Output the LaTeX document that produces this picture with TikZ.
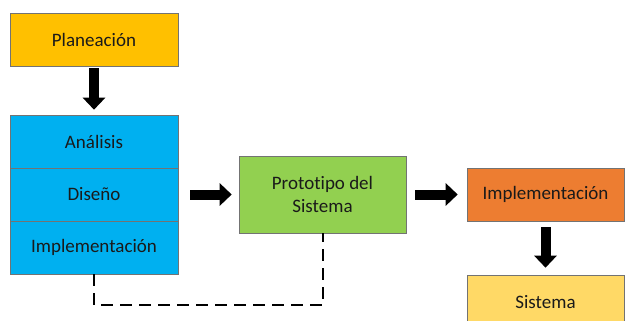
\documentclass[tikz,border=0pt]{standalone}
\usepackage{fontspec}
\setmainfont[Ligatures=NoCommon]{Carlito}
\usepackage{xcolor}
\usepackage{tikz}
\usetikzlibrary{arrows.meta}
\definecolor{planc}{HTML}{FFC000}
\definecolor{azul}{HTML}{00B0F0}
\definecolor{verde}{HTML}{92D050}
\definecolor{naranja}{HTML}{ED7D31}
\definecolor{amarillo}{HTML}{FFD966}
\definecolor{texto}{HTML}{1A1A1A}

\begin{document}
\begin{tikzpicture}[line cap=butt,line join=miter,x=1pt,y=-1pt,
  caja/.style={draw=black!55,line width=0.6pt,minimum width=168pt,minimum height=53pt,
    inner sep=0pt,text=texto,font=\fontsize{19}{23}\selectfont,align=center},
  flecha/.style={line width=10pt,-{Triangle[length=12pt,width=22pt]}},
  retro/.style={line width=2pt,dash pattern=on 12pt off 7pt}]
\useasboundingbox (0,0) rectangle (626,321);
\clip (0,0) rectangle (626,321);
\node[caja,fill=planc] (plan) at (94,39.5) {Planeación};
\node[caja,fill=azul] (anal) at (94,141.5) {Análisis};
\node[caja,fill=azul] (dise) at (94,194.5) {Diseño};
\node[caja,fill=azul] (impl) at (94,247.5) {Implementación};
\node[caja,fill=verde,minimum width=167pt,minimum height=77pt] (proto) at (322.5,194.5) {Prototipo del\\Sistema};
\node[caja,fill=naranja,minimum width=157pt] (implem) at (545.5,194.5) {Implementación};
\node[caja,fill=amarillo,minimum width=157pt,minimum height=54pt] (sist) at (545.5,302) {Sistema};
\draw[flecha,shorten <=2pt,shorten >=5pt] (plan.south) -- (anal.north);
\draw[flecha,shorten <=12pt,shorten >=7pt] (dise.east) -- (proto.west);
\draw[flecha,shorten <=9pt,shorten >=9pt] (proto.east) -- (implem.west);
\draw[flecha,shorten <=6pt,shorten >=7pt] (implem.south) -- (sist.north);
\draw[retro] (impl.south) -- ++(0,31) -| (proto.south);
\end{tikzpicture}
\end{document}
